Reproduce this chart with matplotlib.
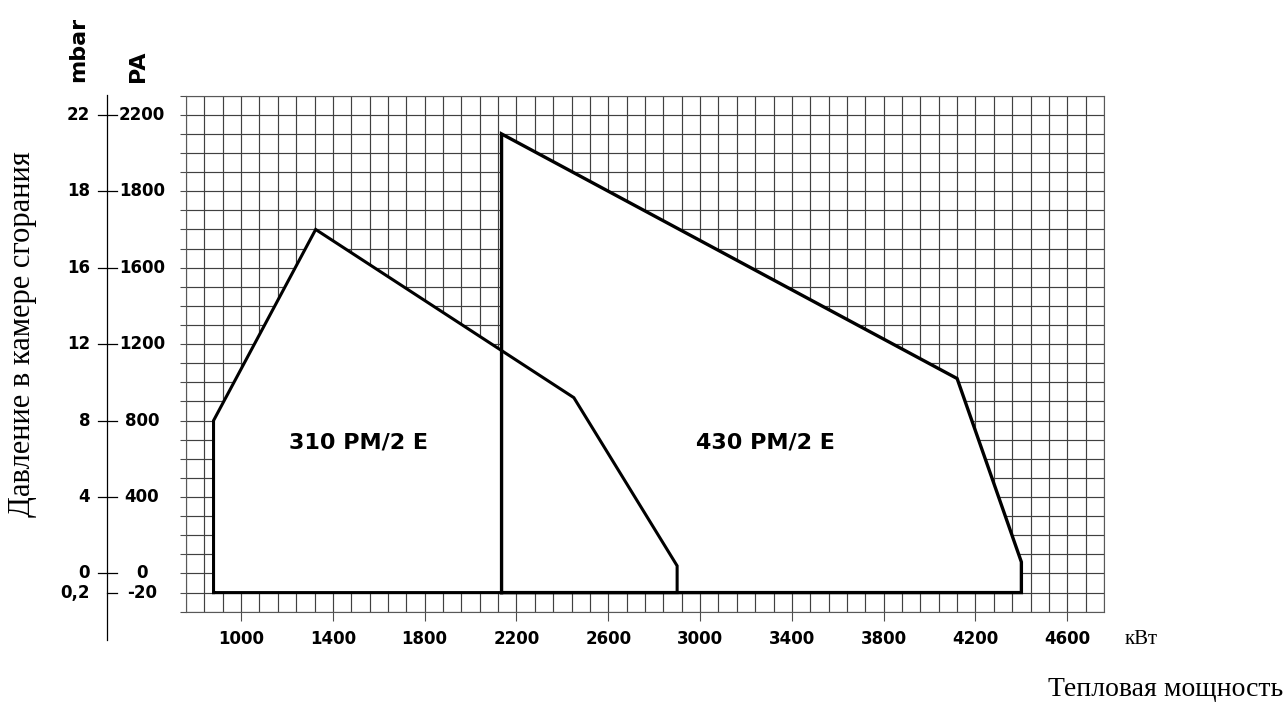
import matplotlib
matplotlib.use("Agg")
import matplotlib.pyplot as plt
import matplotlib.transforms as mtransforms

# Working field outlines (x in kW, y in the chart's uniform pressure grid)
P310_X = [880, 880, 1325, 2450, 2900, 2900]
P310_Y = [-100, 800, 1800, 920, 40, -100]
P430_X = [2135, 2135, 4120, 4400, 4400]
P430_Y = [-100, 2300, 1020, 60, -100]

MODEL_NAMES = ["310 PM/2 E", "430 PM/2 E"]
MODEL_POS = [(1510, 685), (3285, 685)]

X_TICKS = [1000, 1400, 1800, 2200, 2600, 3000, 3400, 3800, 4200, 4600]
Y_TICKS = [2400, 2000, 1600, 1200, 800, 400, 0, -100]
MBAR_LABELS = ["22", "18", "16", "12", "8", "4", "0", "0,2"]
PA_LABELS = ["2200", "1800", "1600", "1200", "800", "400", "0", "-20"]

X_MIN, X_MAX, X_STEP = 760, 4760, 80
Y_MIN, Y_MAX, Y_STEP = -200, 2500, 100

W, H = 1288, 704
BOLD = dict(family="DejaVu Sans", fontweight="bold")
SERIF = "Liberation Serif"


def main():
    fig = plt.figure(figsize=(W / 100, H / 100), dpi=100)
    ax = fig.add_axes([186 / W, (H - 611.7) / H, 918 / W, 516 / H])

    # background grid (drawn explicitly so every line is there)
    ax.set_xlim(X_MIN, X_MAX)
    ax.set_ylim(Y_MIN, Y_MAX)
    xs = list(range(X_MIN, X_MAX + 1, X_STEP))
    ys = list(range(Y_MIN, Y_MAX + 1, Y_STEP))
    ax.vlines(xs, Y_MIN, Y_MAX, color="0.25", linewidth=0.85, zorder=1)
    ax.hlines(ys, X_MIN, X_MAX, color="0.25", linewidth=0.85, zorder=1)
    for sp in ax.spines.values():
        sp.set_color("0.35")
        sp.set_linewidth(0.8)

    ax.set_xticks(X_TICKS)
    ax.set_xticklabels([str(v) for v in X_TICKS], fontsize=12, **BOLD)
    ax.tick_params(axis="x", length=6.5, width=0.8, color="0.3", pad=7)
    ax.set_yticks(ys)
    ax.set_yticklabels([])
    ax.tick_params(axis="y", length=4.5, width=0.8, color="0.3")

    # working fields: white fill over the grid, black outlines on top
    ax.fill(P310_X, P310_Y, color="white", zorder=2)
    ax.fill(P430_X, P430_Y, color="white", zorder=2)
    ax.plot(P310_X + P310_X[:1], P310_Y + P310_Y[:1], color="black",
            linewidth=2.2, zorder=3, solid_joinstyle="miter")
    ax.plot(P430_X + P430_X[:1], P430_Y + P430_Y[:1], color="black",
            linewidth=2.4, zorder=3, solid_joinstyle="miter")

    for name, (x, y) in zip(MODEL_NAMES, MODEL_POS):
        ax.text(x, y, name, fontsize=16, ha="center", va="center",
                zorder=4, **BOLD)

    # separate double pressure scale on the left
    tr = mtransforms.blended_transform_factory(ax.transAxes, ax.transData)
    x_line = (107 - 186) / 918
    ax.plot([x_line, x_line], [-347, 2505], color="black", linewidth=0.9,
            transform=tr, clip_on=False)
    for y, mb, pa in zip(Y_TICKS, MBAR_LABELS, PA_LABELS):
        x0 = x_line if y < 0 else (98 - 186) / 918
        ax.plot([x0, (117 - 186) / 918], [y, y], color="black",
                linewidth=0.9, transform=tr, clip_on=False)
        ax.text((90 - 186) / 918, y, mb, ha="right", va="center",
                fontsize=12, transform=tr, **BOLD)
        ax.text((142 - 186) / 918, y, pa, ha="center", va="center",
                fontsize=12, transform=tr, **BOLD)

    fig.text(78 / W, (H - 82) / H, "mbar", rotation=90, ha="center",
             va="bottom", fontsize=16, **BOLD)
    fig.text(138 / W, (H - 82) / H, "PA", rotation=90, ha="center",
             va="bottom", fontsize=16, **BOLD)

    fig.text(23 / W, (H - 334) / H, "Давление в камере сгорания",
             rotation=90, ha="center", va="center", fontsize=22, family=SERIF)
    fig.text(1125 / W, (H - 639) / H, "кВт", ha="left", va="center",
             fontsize=15, family=SERIF)
    fig.text(1283 / W, (H - 690) / H, "Тепловая мощность", ha="right",
             va="center", fontsize=20, family=SERIF)

    fig.savefig("out.png", dpi=100)


if __name__ == "__main__":
    main()
